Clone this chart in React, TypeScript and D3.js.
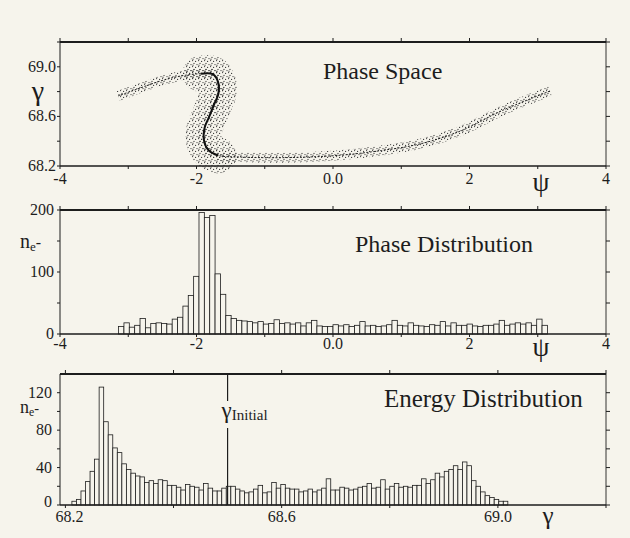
import React, { useEffect, useRef } from 'react';
import * as d3 from 'd3';

// ---- Phase space: centre of the electron band (psi, gamma)
const bandPsi = [-3.15, -2.82, -2.53, -2.24, -1.94, -1.76, -1.68, -1.68, -1.74, -1.82, -1.88, -1.89, -1.82, -1.68, -1.35, -0.76, 0.06, 0.71, 1.29, 1.88, 2.47, 3.18];
const bandGamma = [68.765, 68.83, 68.885, 68.925, 68.944, 68.94, 68.87, 68.78, 68.7, 68.59, 68.51, 68.405, 68.325, 68.285, 68.272, 68.267, 68.285, 68.325, 68.38, 68.485, 68.645, 68.805];
// points 4..13 are the steep s-bend where the particles spread sideways
const steepFrom = 4;
const steepTo = 13;

// ---- Phase distribution: 80 bins over -pi..pi
const phaseCounts = [
  12, 18, 11, 14, 25, 10, 17, 18, 17, 16, 24, 27, 45, 62, 93,
  196, 188, 191,
  97, 64,
  30, 25, 22, 21, 20, 18, 20, 16, 17, 23, 17, 18, 16, 18, 13, 18, 22, 13, 12, 12, 15, 13,
  15, 12, 14, 20, 13, 14, 12, 13, 15, 22, 14, 13, 18, 14, 13, 12, 15, 14, 20, 13, 18, 14,
  14, 16, 13, 12, 14, 14, 16, 22, 14, 16, 18, 16, 18, 14, 24, 14,
];
const phaseStart = -Math.PI;
const phaseWidth = (2 * Math.PI) / 80;

// ---- Energy distribution: 96 bins starting at gamma 68.212
const energyCounts = [
  4, 6, 15, 25, 36, 49, 126, 89, 75, 61, 56, 44, 38, 34, 31, 30, 24, 26, 23, 27, 26, 21,
  21, 19, 16, 22, 20, 19, 16, 23, 18, 15, 15, 18, 20, 20, 17, 15, 13, 14, 17, 21, 13, 14, 24, 18, 22, 18, 17,
  17, 14, 15, 17, 14, 16, 18, 28, 16, 16, 19, 18, 16, 17, 19, 20, 23, 18, 19, 27, 17, 20, 23, 19, 20, 19, 21, 21, 28, 23, 27,
  34, 30, 36, 38, 42, 38, 46, 42, 26, 20, 14, 10, 8, 6, 4, 4,
];
const energyStart = 68.212;
const energyWidth = 0.0084;
const gammaInitial = 68.5;

// ---- ticks
const psiTicks = [-4, -3, -2, -1, 0, 1, 2, 3, 4];
const psiLabels = [[-4, '-4'], [-2, '-2'], [0, '0.0'], [2, '2'], [4, '4']];
const gammaTicks1 = [68.2, 68.4, 68.6, 68.8, 69.0, 69.2];
const gammaLabels1 = [[69.0, '69.0'], [68.6, '68.6'], [68.2, '68.2']];
const phaseYTicks = [0, 50, 100, 150, 200];
const phaseYLabels = [200, 100, 0];
const energyXTicks = [68.2, 68.4, 68.6, 68.8, 69.0, 69.2];
const energyXLabels = [[68.2, '68.2'], [68.6, '68.6'], [69.0, '69.0']];
const energyYTicks = [0, 20, 40, 60, 80, 100, 120];
const energyYLabels = [120, 80, 40, 0];

const INK = '#1d1d1d';
const PAPER = '#f6f4ec';
const FONT = '"Liberation Serif", "Times New Roman", serif';

export default function App() {
  const svgRef = useRef<SVGSVGElement>(null);
  const width = 630;
  const height = 538;
  const L = 60;
  const R = 606;

  const draw = () => {
    const svg = d3.select(svgRef.current);
    svg.selectAll('*').remove();
    svg.attr('width', width).attr('height', height);
    svg.append('rect').attr('width', width).attr('height', height).attr('fill', PAPER);

    // stipple pattern for the particle cloud
    const pat = svg
      .append('defs')
      .append('pattern')
      .attr('id', 'stip')
      .attr('width', 6)
      .attr('height', 6)
      .attr('patternUnits', 'userSpaceOnUse');
    [[0.6, 0.6], [3.6, 1.4], [2.0, 3.4], [5.0, 4.6], [1.0, 5.2]].forEach(([cx, cy]) =>
      pat.append('circle').attr('cx', cx).attr('cy', cy).attr('r', 0.6).attr('fill', '#333')
    );

    const frame = (top, bottom) => {
      const g = svg.append('g').attr('stroke', INK).attr('fill', 'none');
      g.append('line').attr('x1', L).attr('x2', R).attr('y1', top).attr('y2', top).attr('stroke-width', 2);
      g.append('line').attr('x1', L).attr('x2', R).attr('y1', bottom).attr('y2', bottom).attr('stroke-width', 1.4);
      g.append('line').attr('x1', L).attr('x2', L).attr('y1', top).attr('y2', bottom).attr('stroke-width', 1);
      g.append('line').attr('x1', R).attr('x2', R).attr('y1', top).attr('y2', bottom).attr('stroke-width', 0.9);
    };

    const xTicks = (x, vals, top, bottom) => {
      const g = svg.append('g').attr('stroke', INK).attr('stroke-width', 1);
      vals.forEach((v) => {
        g.append('line').attr('x1', x(v)).attr('x2', x(v)).attr('y1', top).attr('y2', top - 4);
        g.append('line').attr('x1', x(v)).attr('x2', x(v)).attr('y1', bottom).attr('y2', bottom + 3);
      });
    };
    const yTicks = (y, vals) => {
      const g = svg.append('g').attr('stroke', INK).attr('stroke-width', 1);
      vals.forEach((v) => {
        g.append('line').attr('x1', L - 3).attr('x2', L).attr('y1', y(v)).attr('y2', y(v));
        g.append('line').attr('x1', R).attr('x2', R + 4).attr('y1', y(v)).attr('y2', y(v));
      });
    };
    const text = (x, y, s, size, anchor = 'start') =>
      svg
        .append('text')
        .attr('x', x)
        .attr('y', y)
        .attr('font-family', FONT)
        .attr('font-size', size)
        .attr('fill', INK)
        .attr('text-anchor', anchor)
        .text(s);
    const neLabel = (x, y, size) => {
      const t = svg.append('text').attr('x', x).attr('y', y).attr('font-family', FONT).attr('font-size', size).attr('fill', INK);
      t.append('tspan').text('n');
      t.append('tspan').attr('dy', 3).attr('font-size', size * 0.65).text('e');
      t.append('tspan').attr('dy', -3).attr('font-size', size * 0.8).text('-');
    };

    // ================= Panel 1: phase space =================
    const top1 = 42;
    const bot1 = 166;
    const x1 = d3.scaleLinear().domain([-4, 4]).range([L, R]);
    const y1 = d3.scaleLinear().domain([68.2, 69.2]).range([bot1, top1]);
    const pts = bandPsi.map((p, i) => [x1(p), y1(bandGamma[i])]);
    const line = d3.line().curve(d3.curveCatmullRom.alpha(0.5));

    svg.append('path').attr('d', line(pts)).attr('fill', 'none').attr('stroke', 'url(#stip)').attr('stroke-width', 10);
    svg
      .append('path')
      .attr('d', line(pts.slice(steepFrom, steepTo + 1)))
      .attr('fill', 'none')
      .attr('stroke', 'url(#stip)')
      .attr('stroke-width', 36)
      .attr('stroke-linecap', 'round');
    svg
      .append('path')
      .attr('d', line(pts))
      .attr('fill', 'none')
      .attr('stroke', '#222')
      .attr('stroke-width', 1)
      .attr('stroke-dasharray', '2 1.5');
    svg
      .append('path')
      .attr('d', line(pts.slice(steepFrom, steepTo + 1)))
      .attr('fill', 'none')
      .attr('stroke', '#111')
      .attr('stroke-width', 2);

    frame(top1, bot1);
    xTicks(x1, psiTicks, top1, bot1);
    yTicks(y1, gammaTicks1);
    psiLabels.forEach(([v, s]) => text(x1(v), bot1 + 18, s, 16, 'middle'));
    gammaLabels1.forEach(([v, s]) => text(L - 4, y1(v) + 5, s, 16, 'end'));
    text(38, 100, 'γ', 28, 'middle');
    text(541, bot1 + 25, 'ψ', 27, 'middle');
    text(323, 79, 'Phase Space', 24);

    // ================= Panel 2: phase distribution =================
    const top2 = 210;
    const bot2 = 334;
    const x2 = d3.scaleLinear().domain([-4, 4]).range([L, R]);
    const y2 = d3.scaleLinear().domain([0, 200]).range([bot2, top2]);
    svg
      .append('g')
      .selectAll('rect')
      .data(phaseCounts)
      .enter()
      .append('rect')
      .attr('x', (_, i) => x2(phaseStart + i * phaseWidth))
      .attr('y', (d) => y2(d))
      .attr('width', x2(phaseWidth) - x2(0))
      .attr('height', (d) => bot2 - y2(d))
      .attr('fill', PAPER)
      .attr('stroke', INK)
      .attr('stroke-width', 0.8);
    frame(top2, bot2);
    xTicks(x2, psiTicks, top2, bot2);
    yTicks(y2, phaseYTicks);
    psiLabels.forEach(([v, s]) => text(x2(v), bot2 + 15, s, 16, 'middle'));
    phaseYLabels.forEach((v) => text(L - 6, y2(v) + 5, String(v), 16, 'end'));
    neLabel(20, 248, 20);
    text(541, bot2 + 22, 'ψ', 27, 'middle');
    text(355, 252, 'Phase Distribution', 24);

    // ================= Panel 3: energy distribution =================
    const top3 = 374;
    const bot3 = 505;
    const x3 = d3.scaleLinear().domain([68.19, 69.2]).range([L, R]);
    const y3 = d3.scaleLinear().domain([0, 140]).range([bot3, top3]);
    svg
      .append('g')
      .selectAll('rect')
      .data(energyCounts)
      .enter()
      .append('rect')
      .attr('x', (_, i) => x3(energyStart + i * energyWidth))
      .attr('y', (d) => y3(d))
      .attr('width', x3(energyStart + energyWidth) - x3(energyStart))
      .attr('height', (d) => bot3 - y3(d))
      .attr('fill', PAPER)
      .attr('stroke', INK)
      .attr('stroke-width', 0.8);

    // gamma initial marker
    const gx = x3(gammaInitial);
    svg.append('line').attr('x1', gx).attr('x2', gx).attr('y1', top3).attr('y2', 401).attr('stroke', INK).attr('stroke-width', 1.2);
    svg.append('line').attr('x1', gx).attr('x2', gx).attr('y1', 428).attr('y2', bot3).attr('stroke', INK).attr('stroke-width', 1.2);
    const gi = svg.append('text').attr('x', gx - 6).attr('y', 418).attr('font-family', FONT).attr('fill', INK);
    gi.append('tspan').attr('font-size', 23).text('γ');
    gi.append('tspan').attr('font-size', 15).attr('dy', 2).text('Initial');

    frame(top3, bot3);
    xTicks(x3, energyXTicks, top3, bot3);
    yTicks(y3, energyYTicks);
    energyXLabels.forEach(([v, s]) => text(x3(v) + (v === 68.2 ? 4 : 0), bot3 + 17, s, 16, 'middle'));
    energyYLabels.forEach((v) => text(L - 8, y3(v) + (v === 0 ? 2 : 5), String(v), 16, 'end'));
    neLabel(20, 413, 18);
    text(548, bot3 + 19, 'γ', 25, 'middle');
    text(384, 407, 'Energy Distribution', 25);
  };

  useEffect(() => {
    draw();
  }, []);

  return <svg ref={svgRef} style={{ position: 'absolute', left: 0, top: 0 }} />;
}
